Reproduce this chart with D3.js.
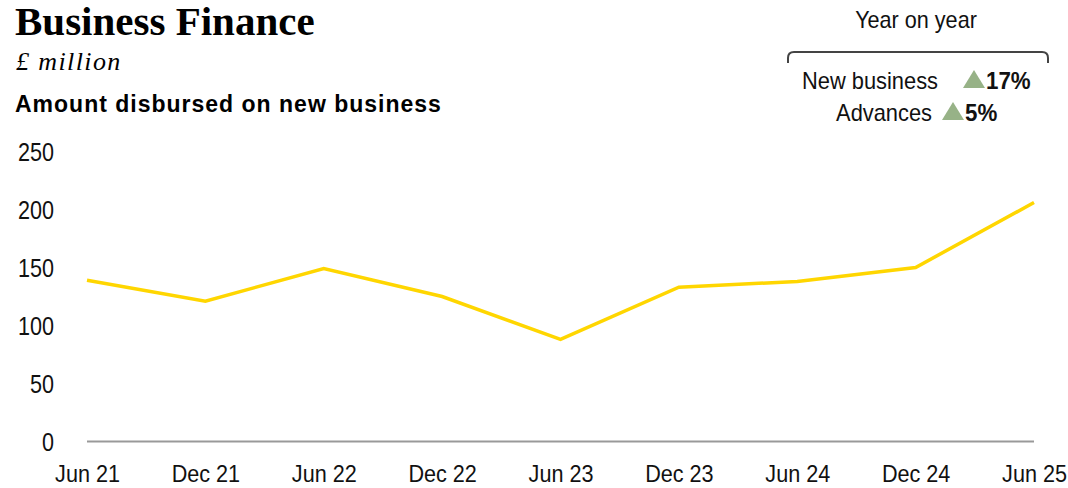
<!DOCTYPE html>
<html>
<head>
<meta charset="utf-8">
<script src="https://cdn.jsdelivr.net/npm/d3@7"></script>
<style>
  html, body { margin: 0; padding: 0; background: #fff; }
  svg { display: block; }
  .cond { font-family: "Liberation Sans", Arial, sans-serif; }
</style>
</head>
<body>
<svg id="chart" width="1068" height="488"></svg>
<script>
// Half-yearly periods and amounts disbursed (£ million)
const periods = ["Jun 21", "Dec 21", "Jun 22", "Dec 22", "Jun 23", "Dec 23", "Jun 24", "Dec 24", "Jun 25"];
const disbursed = [139, 121, 149, 125, 88, 133, 138, 150, 206];
const yTicks = [0, 50, 100, 150, 200, 250];

// Year-on-year change summary
const yoyLabels = ["New business", "Advances"];
const yoyValues = ["17%", "5%"];

const W = 1068, H = 488;
const margin = { left: 87, right: 34, top: 151.5, bottom: 46.5 };

const svg = d3.select("#chart");

// Squeeze text horizontally to give a condensed face
function condense(sel, factor) {
  sel.each(function () {
    const len = this.getComputedTextLength();
    d3.select(this).attr("textLength", len * factor).attr("lengthAdjust", "spacingAndGlyphs");
  });
}

const x = d3.scalePoint().domain(periods).range([margin.left, W - margin.right]);
const y = d3.scaleLinear().domain([0, 250]).range([H - margin.bottom, margin.top]);

// Headings
svg.append("text").attr("x", 15).attr("y", 35)
  .style("font-family", "'Liberation Serif', 'Times New Roman', serif")
  .style("font-weight", "bold").style("font-size", "41px").attr("fill", "#000")
  .text("Business Finance");
svg.append("text").attr("x", 16).attr("y", 70)
  .style("font-family", "'Liberation Serif', 'Times New Roman', serif")
  .style("font-style", "italic").style("font-size", "26px")
  .style("letter-spacing", "1.4px").attr("fill", "#000")
  .text("£ million");
svg.append("text").attr("x", 15).attr("y", 111.5)
  .style("font-family", "'Liberation Sans', Arial, sans-serif")
  .style("font-weight", "bold").style("font-size", "23px")
  .style("letter-spacing", "1px").attr("fill", "#000")
  .text("Amount disbursed on new business");

// Y axis labels (no line, no ticks)
const yAxis = d3.axisLeft(y).tickValues(yTicks).tickSize(0).tickPadding(0);
const gy = svg.append("g").attr("class", "cond").attr("transform", "translate(54,0)").call(yAxis);
gy.select(".domain").remove();
gy.selectAll("text").style("font-size", "26px").attr("fill", "#111").attr("dy", "0.36em");
condense(gy.selectAll("text"), 0.83);

// X axis baseline and labels
const xAxis = d3.axisBottom(x).tickSize(0).tickPadding(0);
const gx = svg.append("g").attr("class", "cond").attr("transform", `translate(0,${y(0)})`).call(xAxis);
gx.select(".domain").attr("stroke", "#999").attr("stroke-width", 2)
  .attr("d", `M${x(periods[0])},0H${x(periods[periods.length - 1])}`);
gx.selectAll("text").style("font-size", "24px").attr("fill", "#111").attr("dy", "1.7em");
condense(gx.selectAll("text"), 0.9);

// Series line
const line = d3.line().x((d, i) => x(periods[i])).y(d => y(d));
svg.append("path").datum(disbursed)
  .attr("d", line).attr("fill", "none")
  .attr("stroke", "#FFD600").attr("stroke-width", 3.5)
  .attr("stroke-linejoin", "miter");

// Year-on-year summary box
const lg = svg.append("g").attr("class", "cond");
const head = lg.append("text").attr("x", 916).attr("y", 28).attr("text-anchor", "middle")
  .style("font-size", "24px").attr("fill", "#111").text("Year on year");
condense(head, 0.9);
lg.append("path")
  .attr("d", "M788,63V58Q788,52,794,52H1042Q1048,52,1048,58V63")
  .attr("fill", "none").attr("stroke", "#444").attr("stroke-width", 2);

const rows = [
  { label: yoyLabels[0], value: yoyValues[0], labelEnd: 938, triX: 963, y: 89 },
  { label: yoyLabels[1], value: yoyValues[1], labelEnd: 932, triX: 942, y: 121 }
];
rows.forEach(r => {
  const t = lg.append("text").attr("x", r.labelEnd).attr("y", r.y).attr("text-anchor", "end")
    .style("font-size", "24px").attr("fill", "#111").text(r.label);
  condense(t, 0.91);
  lg.append("path")
    .attr("d", `M${r.triX},${r.y - 1}L${r.triX + 11},${r.y - 19}L${r.triX + 22},${r.y - 1}Z`)
    .attr("fill", "#97B287");
  const v = lg.append("text").attr("x", r.triX + 23).attr("y", r.y)
    .style("font-size", "24px").style("font-weight", "bold").attr("fill", "#111").text(r.value);
  condense(v, 0.93);
});
</script>
</body>
</html>
